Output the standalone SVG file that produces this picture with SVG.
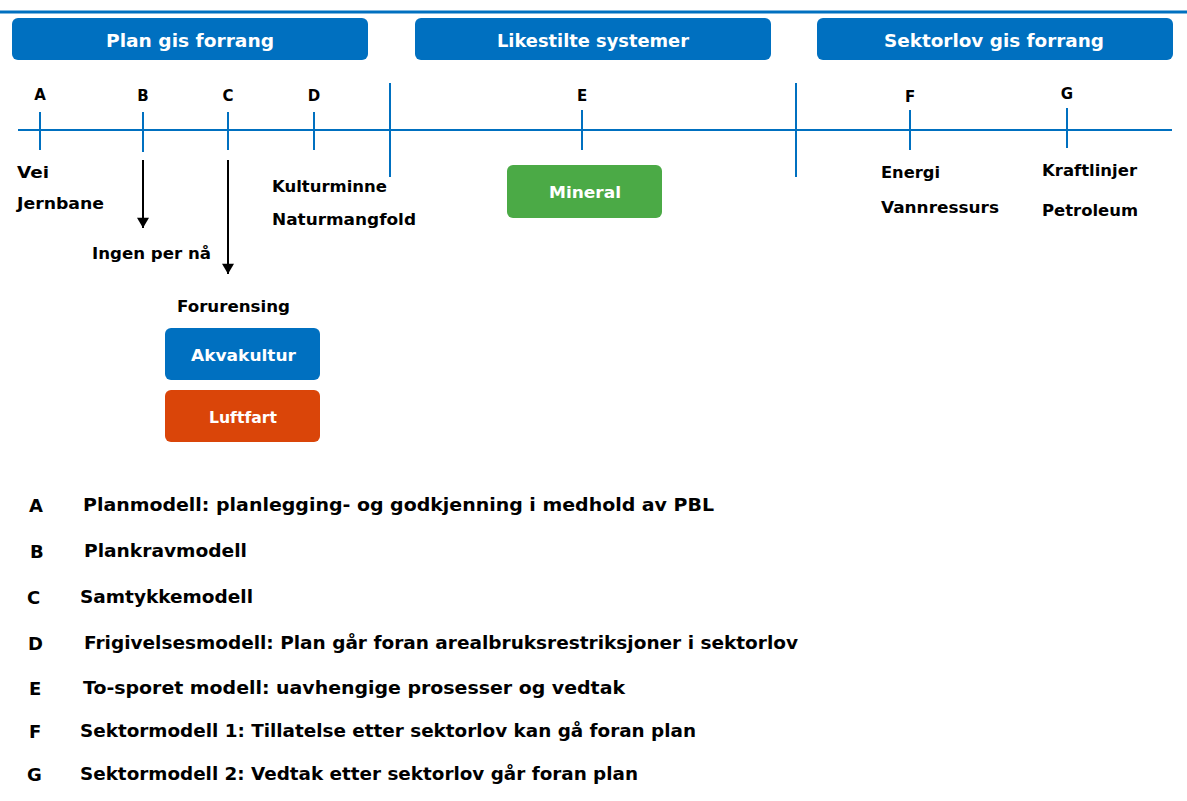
<svg xmlns="http://www.w3.org/2000/svg" width="1187" height="801" viewBox="0 0 1187 801">
<defs>
<marker id="arr" viewBox="0 0 12 14" refX="12" refY="7" markerWidth="14" markerHeight="12" markerUnits="userSpaceOnUse" orient="auto">
<path d="M0,0 L12,7 L0,14 z" fill="#000"/>
</marker>
<style>
text{font-family:"DejaVu Sans","Liberation Sans",Arial,sans-serif;font-weight:bold;fill:#000}
.hdr{fill:#0070C0}
.ht{fill:#fff;font-size:18px}
.bt{fill:#fff;font-size:16px}
.lab{font-size:16px}
.let{font-size:15px;text-anchor:middle}
.leg{font-size:18px}
.ax{stroke:#0070C0;stroke-width:2;fill:none}
.arrow{stroke:#000;stroke-width:2;fill:none}
</style>
</defs>
<rect width="1187" height="801" fill="#fff"/>
<line x1="0" y1="12" x2="1187" y2="12" stroke="#0070C0" stroke-width="3"/>

<g id="hdr-plan"><rect class="hdr" x="12" y="18" width="356" height="42" rx="6"/><text class="ht" x="106" y="47" textLength="168" lengthAdjust="spacingAndGlyphs">Plan gis forrang</text></g>
<g id="hdr-like"><rect class="hdr" x="415" y="18" width="356" height="42" rx="6"/><text class="ht" x="497" y="47" textLength="192" lengthAdjust="spacingAndGlyphs">Likestilte systemer</text></g>
<g id="hdr-sektor"><rect class="hdr" x="817" y="18" width="356" height="42" rx="6"/><text class="ht" x="884" y="47" textLength="220" lengthAdjust="spacingAndGlyphs">Sektorlov gis forrang</text></g>

<g id="axis">
<line class="ax" x1="18" y1="130" x2="1172" y2="130"/>
<line class="ax" x1="40" y1="112" x2="40" y2="150"/>
<line class="ax" x1="143" y1="112" x2="143" y2="152"/>
<line class="ax" x1="228" y1="112" x2="228" y2="150"/>
<line class="ax" x1="314" y1="112" x2="314" y2="150"/>
<line class="ax" x1="390" y1="83" x2="390" y2="177"/>
<line class="ax" x1="582" y1="110" x2="582" y2="150"/>
<line class="ax" x1="796" y1="83" x2="796" y2="177"/>
<line class="ax" x1="910" y1="110" x2="910" y2="150"/>
<line class="ax" x1="1067" y1="108" x2="1067" y2="148"/>
</g>

<g id="letters">
<text class="let" x="40" y="100">A</text>
<text class="let" x="143" y="101">B</text>
<text class="let" x="228" y="101">C</text>
<text class="let" x="314" y="101">D</text>
<text class="let" x="582" y="101">E</text>
<text class="let" x="910" y="102">F</text>
<text class="let" x="1067" y="99">G</text>
</g>

<g id="connectors">
<line class="arrow" x1="143" y1="160" x2="143" y2="228" marker-end="url(#arr)"/>
<line class="arrow" x1="228" y1="160" x2="228" y2="274" marker-end="url(#arr)"/>
</g>

<g id="labels">
<text class="lab" x="17" y="178" textLength="32" lengthAdjust="spacingAndGlyphs">Vei</text>
<text class="lab" x="17" y="209" textLength="87" lengthAdjust="spacingAndGlyphs">Jernbane</text>
<text class="lab" x="92" y="259" textLength="119" lengthAdjust="spacingAndGlyphs">Ingen per nå</text>
<text class="lab" x="272" y="192" textLength="115" lengthAdjust="spacingAndGlyphs">Kulturminne</text>
<text class="lab" x="272" y="225" textLength="144" lengthAdjust="spacingAndGlyphs">Naturmangfold</text>
<text class="lab" x="177" y="312" textLength="113" lengthAdjust="spacingAndGlyphs">Forurensing</text>
<text class="lab" x="881" y="178" textLength="59" lengthAdjust="spacingAndGlyphs">Energi</text>
<text class="lab" x="881" y="213" textLength="118" lengthAdjust="spacingAndGlyphs">Vannressurs</text>
<text class="lab" x="1042" y="176" textLength="95" lengthAdjust="spacingAndGlyphs">Kraftlinjer</text>
<text class="lab" x="1042" y="216" textLength="96" lengthAdjust="spacingAndGlyphs">Petroleum</text>
</g>

<g id="node-mineral"><rect x="507" y="165" width="155" height="53" rx="6" fill="#4BAA46"/><text class="bt" x="549" y="198" textLength="72" lengthAdjust="spacingAndGlyphs">Mineral</text></g>
<g id="node-akvakultur"><rect x="165" y="328" width="155" height="52" rx="6" fill="#0070C0"/><text class="bt" x="191" y="361" textLength="105" lengthAdjust="spacingAndGlyphs">Akvakultur</text></g>
<g id="node-luftfart"><rect x="165" y="390" width="155" height="52" rx="6" fill="#DA4509"/><text class="bt" x="209" y="423" textLength="68" lengthAdjust="spacingAndGlyphs">Luftfart</text></g>

<g id="legend">
<text class="leg" x="29" y="512">A</text><text class="leg" x="83" y="511" textLength="631" lengthAdjust="spacingAndGlyphs">Planmodell: planlegging- og godkjenning i medhold av PBL</text>
<text class="leg" x="30" y="558">B</text><text class="leg" x="84" y="557" textLength="163" lengthAdjust="spacingAndGlyphs">Plankravmodell</text>
<text class="leg" x="27" y="604">C</text><text class="leg" x="80" y="603" textLength="173" lengthAdjust="spacingAndGlyphs">Samtykkemodell</text>
<text class="leg" x="28" y="650">D</text><text class="leg" x="84" y="649" textLength="714" lengthAdjust="spacingAndGlyphs">Frigivelsesmodell: Plan går foran arealbruksrestriksjoner i sektorlov</text>
<text class="leg" x="29" y="695">E</text><text class="leg" x="83" y="694" textLength="542" lengthAdjust="spacingAndGlyphs">To-sporet modell:  uavhengige prosesser og vedtak</text>
<text class="leg" x="29" y="738">F</text><text class="leg" x="80" y="737" textLength="616" lengthAdjust="spacingAndGlyphs">Sektormodell 1: Tillatelse etter sektorlov kan gå foran plan</text>
<text class="leg" x="27" y="781">G</text><text class="leg" x="80" y="780" textLength="558" lengthAdjust="spacingAndGlyphs">Sektormodell 2: Vedtak etter sektorlov går foran plan</text>
</g>
</svg>
